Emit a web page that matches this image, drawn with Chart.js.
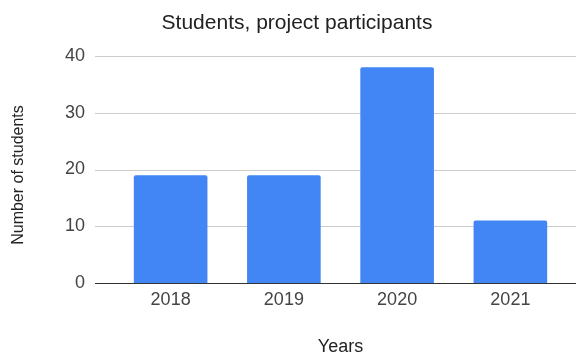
<!DOCTYPE html>
<html>
<head>
<meta charset="utf-8">
<script src="https://cdn.jsdelivr.net/npm/chart.js@4"></script>
<style>
  html, body { margin: 0; padding: 0; background: #fff; }
  #wrap { width: 576px; height: 354px; position: relative; }
</style>
</head>
<body>
<div id="wrap"><canvas id="barChart"></canvas></div>
<script>
// Chart data
const chartTitle = "Students, project participants";
const years = ["2018", "2019", "2020", "2021"];
const students = [19, 19, 38, 11];
const yTicks = [0, 10, 20, 30, 40];

const FONT = '"Liberation Sans", Arial, sans-serif';

// grid lines run wider than the bar area, like the original sheet chart
const gridPlugin = {
  id: "sheetGrid",
  beforeDatasetsDraw(chart) {
    const ctx = chart.ctx, y = chart.scales.y;
    ctx.save();
    ctx.strokeStyle = "#cccccc";
    ctx.lineWidth = 1;
    yTicks.forEach(v => {
      if (v === 0) return;
      const py = Math.round(y.getPixelForValue(v)) + 0.5;
      ctx.beginPath();
      ctx.moveTo(95, py);
      ctx.lineTo(chart.width, py);
      ctx.stroke();
    });
    ctx.restore();
  },
  afterDatasetsDraw(chart) {
    const ctx = chart.ctx, y = chart.scales.y;
    const py = Math.round(y.getPixelForValue(0)) + 0.5;
    ctx.save();
    ctx.strokeStyle = "#333333";
    ctx.lineWidth = 1;
    ctx.beginPath();
    ctx.moveTo(95, py);
    ctx.lineTo(chart.width, py);
    ctx.stroke();
    // chart title, centred as in the sheet chart
    ctx.fillStyle = "#222222";
    ctx.font = "21px " + FONT;
    ctx.textAlign = "center";
    ctx.textBaseline = "middle";
    ctx.fillText(chartTitle, 297, 23);
    // y axis title sits a little below the plot centre
    ctx.font = "16px " + FONT;
    ctx.translate(19, 175);
    ctx.rotate(-Math.PI / 2);
    ctx.fillText("Number of students", 0, 0);
    ctx.restore();
  }
};

const ctx = document.getElementById("barChart").getContext("2d");
new Chart(ctx, {
  type: "bar",
  data: {
    labels: years,
    datasets: [{
      data: students,
      backgroundColor: "#4285f4",
      borderRadius: { topLeft: 2, topRight: 2 },
      borderSkipped: "bottom",
      categoryPercentage: 1,
      barPercentage: 0.65
    }]
  },
  options: {
    responsive: true,
    maintainAspectRatio: false,
    animation: false,
    layout: { padding: { top: 56, right: 9, left: 0, bottom: 0 } },
    plugins: {
      legend: { display: false },
      tooltip: { enabled: false }
    },
    scales: {
      x: {
        grid: { display: false, drawTicks: false },
        border: { display: false },
        ticks: { color: "#444444", font: { family: FONT, size: 18 }, padding: 6 },
        title: {
          display: true, text: "Years", color: "#222222",
          font: { family: FONT, size: 18, lineHeight: 0.8 },
          padding: { top: 0, bottom: 0 }
        },
        afterFit(s) { s.height = 71; }
      },
      y: {
        min: 0, max: 40,
        grid: { display: false, drawTicks: false },
        border: { display: false },
        ticks: {
          stepSize: 10, color: "#444444",
          font: { family: FONT, size: 18 }, padding: 29
        },
        afterFit(s) { s.width = 114; }
      }
    }
  },
  plugins: [gridPlugin]
});
</script>
</body>
</html>
